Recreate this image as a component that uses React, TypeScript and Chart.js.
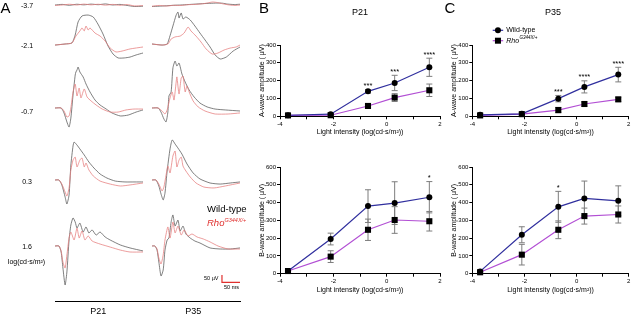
import React, { useEffect, useRef } from "react";
import { Chart, registerables } from "chart.js";

Chart.register(...registerables);

type Pt = [number, number];

const FONT = "'Liberation Sans', Arial, Helvetica, sans-serif";

// Flash strengths, log(cd·s/m²)
const INTENSITIES = [-3.7, -2.1, -0.7, 0.3, 1.6];
const INTENSITY_LABELS = ["-3.7", "-2.1", "-0.7", "0.3", "1.6"];

// Series names
const WT_NAME = "Wild-type";
const MUT_NAME = "Rho";
const MUT_ALLELE = "G344X/+";

// A-wave amplitudes (µV), mean ± error
const P21_A_WT = [6, 12, 140, 187, 275];
const P21_A_WT_ERR = [4, 6, 10, 43, 51];
const P21_A_MUT = [5, 6, 58, 105, 146];
const P21_A_MUT_ERR = [4, 5, 12, 22, 35];
const P21_A_SIG = ["", "", "***", "***", "****"];

const P35_A_WT = [8, 14, 99, 165, 234];
const P35_A_WT_ERR = [8, 6, 18, 34, 41];
const P35_A_MUT = [5, 12, 35, 69, 95];
const P35_A_MUT_ERR = [10, 5, 15, 12, 12];
const P35_A_SIG = ["", "", "***", "****", "****"];

// B-wave amplitudes (µV), mean ± error
const P21_B_WT = [15, 195, 380, 397, 430];
const P21_B_WT_ERR = [8, 33, 92, 120, 88];
const P21_B_MUT = [15, 96, 247, 302, 295];
const P21_B_MUT_ERR = [8, 33, 60, 75, 55];
const P21_B_SIG = ["", "", "", "", "*"];

const P35_B_WT = [13, 219, 376, 423, 410];
const P35_B_WT_ERR = [8, 45, 87, 98, 84];
const P35_B_MUT = [8, 107, 247, 324, 333];
const P35_B_MUT_ERR = [8, 58, 50, 45, 48];
const P35_B_SIG = ["", "", "*", "", ""];

// Representative ERG traces: [time (ms), amplitude (µV)]
const P21_WT_M37: Pt[] = [[0, 0], [20, 4], [40, -2], [60, 5], [80, 1], [100, 6], [120, 2], [140, 7], [160, 0], [180, 4], [200, -3], [220, -10], [244, -8]];
const P21_MUT_M37: Pt[] = [[0, -3], [20, 0], [40, 5], [60, 0], [80, 6], [100, 1], [120, 5], [140, -1], [160, 4], [180, -2], [200, 3], [220, -6], [244, -4]];
const P35_WT_M37: Pt[] = [[0, -10], [20, -8], [40, -5], [60, -2], [80, 0], [100, 3], [120, 6], [140, 9], [160, 11], [180, 13], [195, 12], [210, 6], [228, 3], [244, 5]];
const P35_MUT_M37: Pt[] = [[0, -8], [20, -3], [40, -7], [60, -2], [80, -3], [100, 2], [120, 4], [140, 8], [155, 14], [168, 20], [182, 16], [196, 8], [215, 0], [230, -3], [244, 0]];

const P21_WT_M21: Pt[] = [[0, -7], [28, 0], [47, 7], [56, 60], [64, 147], [75, 187], [92, 193], [106, 180], [119, 133], [133, 67], [147, -13], [161, -67], [175, -93], [192, -93], [208, -87], [225, -73], [244, -60]];
const P21_MUT_M21: Pt[] = [[0, -7], [28, 0], [47, 7], [58, 53], [69, 87], [75, 107], [81, 87], [86, 120], [92, 93], [97, 107], [111, 73], [125, 53], [139, 20], [153, -27], [169, -53], [186, -47], [208, -33], [244, -20]];
const P35_WT_M21: Pt[] = [[0, 0], [28, -7], [42, 0], [50, 55], [58, 120], [67, 193], [72, 213], [75, 173], [81, 207], [86, 167], [94, 180], [106, 160], [119, 120], [133, 73], [147, 27], [161, -20], [175, -73], [189, -100], [206, -87], [225, -47], [244, -20]];
const P35_MUT_M21: Pt[] = [[0, 0], [28, -7], [44, 0], [53, 33], [64, 47], [78, 53], [89, 73], [100, 113], [108, 87], [122, 53], [136, 13], [150, -33], [167, -67], [183, -60], [200, -40], [217, -27], [233, -20], [244, -7]];

const P21_WT_M07: Pt[] = [[0, 0], [17, 0], [25, -33], [33, -93], [39, -127], [44, -67], [50, 87], [56, 220], [58, 240], [61, 253], [64, 273], [69, 240], [78, 207], [86, 160], [97, 107], [111, 53], [125, 20], [142, -7], [158, -33], [181, -53], [203, -47], [225, -27], [244, -13]];
const P21_MUT_M07: Pt[] = [[0, 0], [17, 0], [25, -20], [33, -60], [39, -53], [44, 0], [50, 107], [56, 160], [61, 80], [67, 133], [72, 67], [81, 127], [89, 73], [100, 47], [114, 20], [131, -7], [153, -27], [175, -27], [197, -13], [219, -7], [244, -7]];
const P35_WT_M07: Pt[] = [[0, 0], [17, 0], [25, -27], [33, -73], [39, -93], [44, -27], [47, 80], [53, 107], [58, 267], [64, 313], [69, 280], [75, 300], [83, 227], [92, 173], [103, 120], [117, 73], [133, 33], [153, 7], [175, -7], [203, -13], [244, -20]];
const P35_MUT_M07: Pt[] = [[0, 0], [17, 0], [28, -20], [36, -40], [42, -13], [50, 67], [56, 107], [61, 53], [67, 173], [69, 207], [75, 93], [81, 200], [86, 213], [92, 107], [97, 147], [103, 107], [114, 47], [128, 7], [147, -20], [175, -40], [211, -40], [244, -33]];

const P21_WT_P03: Pt[] = [[0, 0], [11, 0], [19, -33], [28, -113], [33, -160], [39, -100], [44, 100], [50, 227], [53, 253], [61, 233], [69, 207], [81, 167], [94, 120], [108, 80], [125, 40], [144, 13], [167, -7], [194, -13], [222, -13], [244, -13]];
const P21_MUT_P03: Pt[] = [[0, 0], [11, 0], [19, -27], [28, -80], [33, -107], [39, -53], [44, 67], [50, 133], [56, 153], [61, 87], [69, 133], [75, 147], [81, 87], [86, 113], [94, 67], [106, 27], [125, -7], [153, -27], [181, -40], [208, -33], [244, -20]];
const P35_WT_P03: Pt[] = [[0, 0], [11, 0], [19, -40], [25, -93], [31, -133], [36, -87], [42, 60], [50, 207], [56, 267], [64, 240], [72, 213], [83, 173], [97, 107], [114, 47], [133, 7], [161, -20], [189, -27], [217, -20], [244, -13]];
const P35_MUT_P03: Pt[] = [[0, 0], [11, 0], [19, -27], [28, -73], [33, -47], [39, 33], [44, 93], [50, 47], [58, 160], [64, 193], [69, 87], [75, 133], [81, 153], [86, 93], [94, 60], [106, 20], [122, -20], [144, -47], [172, -53], [203, -40], [244, -20]];

const P21_WT_P16: Pt[] = [[0, 0], [11, 0], [17, -40], [22, -147], [28, -260], [33, -173], [39, 40], [44, 140], [50, 187], [56, 160], [61, 120], [69, 153], [78, 93], [86, 127], [94, 87], [103, 107], [114, 73], [125, 93], [139, 60], [153, 40], [181, 7], [208, -13], [244, -33]];
const P21_MUT_P16: Pt[] = [[0, 0], [11, 0], [17, -33], [22, -107], [28, -147], [33, -60], [39, 53], [44, 93], [53, 40], [61, 120], [67, 53], [75, 100], [83, 40], [92, 67], [103, 33], [125, 13], [153, -7], [181, -27], [208, -40], [244, -40]];
const P35_WT_P16: Pt[] = [[0, 0], [8, 0], [14, -27], [19, -107], [25, -200], [31, -160], [36, -27], [42, 40], [47, 53], [53, 160], [58, 207], [64, 133], [72, 173], [78, 100], [86, 133], [94, 80], [106, 53], [119, 33], [133, 20], [161, -13], [189, -20], [217, -20], [244, -13]];
const P35_MUT_P16: Pt[] = [[0, 0], [8, 0], [14, -20], [19, -80], [25, -120], [31, -60], [36, 40], [44, 127], [50, 53], [58, 160], [64, 87], [72, 133], [81, 73], [89, 107], [100, 67], [111, 80], [125, 60], [142, 47], [161, 27], [183, 0], [211, -20], [244, -20]];

// Calibration: 50 µV vertical, 50 ms horizontal
const SCALE_BAR: Pt[] = [[194, -193], [194, -243], [244, -243]];

const TRACE_ROWS: { p21: [Pt[], Pt[]]; p35: [Pt[], Pt[]] }[] = [
  { p21: [P21_WT_M37, P21_MUT_M37], p35: [P35_WT_M37, P35_MUT_M37] },
  { p21: [P21_WT_M21, P21_MUT_M21], p35: [P35_WT_M21, P35_MUT_M21] },
  { p21: [P21_WT_M07, P21_MUT_M07], p35: [P35_WT_M07, P35_MUT_M07] },
  { p21: [P21_WT_P03, P21_MUT_P03], p35: [P35_WT_P03, P35_MUT_P03] },
  { p21: [P21_WT_P16, P21_MUT_P16], p35: [P35_WT_P16, P35_MUT_P16] },
];

// Colours
const WT_TRACE = "#555555";
const MUT_TRACE = "#e67c7c";
const RED_TEXT = "#e0302e";
const WT_LINE = "#302f9e";
const MUT_LINE = "#b24fd4";
const ERR_COLOR = "#7d7d7d";

// Trace geometry
const PX_PER_MS = 0.36;
const PX_PER_UV = 0.15;
const TRACE_SPAN_MS = 244;
const TRACE_HALF_RANGE_UV = 360;
const COLUMN_LEFT = [55, 152];
const ROW_BASELINE = [5, 44, 108, 180, 246];

const toXY = (pts: Pt[]) => pts.map(([x, y]) => ({ x, y }));

function TraceCell({ left, base, wt, mut, extra }: { left: number; base: number; wt: Pt[]; mut: Pt[]; extra?: Pt[] }) {
  const ref = useRef<HTMLCanvasElement>(null);
  const width = Math.round(TRACE_SPAN_MS * PX_PER_MS);
  const height = Math.round(2 * TRACE_HALF_RANGE_UV * PX_PER_UV);
  useEffect(() => {
    const datasets: any[] = [
      { data: toXY(mut), borderColor: MUT_TRACE, borderWidth: 0.75, pointRadius: 0, tension: 0.2, clip: false },
      { data: toXY(wt), borderColor: WT_TRACE, borderWidth: 0.75, pointRadius: 0, tension: 0.2, clip: false },
    ];
    if (extra) {
      datasets.push({ data: toXY(extra), borderColor: RED_TEXT, borderWidth: 1.2, pointRadius: 0, tension: 0, clip: false });
    }
    const chart = new Chart(ref.current!, {
      type: "line",
      data: { datasets },
      options: {
        animation: false,
        responsive: false,
        events: [],
        layout: { padding: 0 },
        plugins: { legend: { display: false }, tooltip: { enabled: false } },
        scales: {
          x: { type: "linear", display: false, min: 0, max: TRACE_SPAN_MS },
          y: { type: "linear", display: false, min: -TRACE_HALF_RANGE_UV, max: TRACE_HALF_RANGE_UV },
        },
      },
    });
    return () => chart.destroy();
  }, []);
  return (
    <canvas
      ref={ref}
      width={width}
      height={height}
      style={{ position: "absolute", left, top: Math.round(base - height / 2), width, height }}
    />
  );
}

// Error bars drawn from each dataset's `errors` array
const errorBars = {
  id: "errorBars",
  beforeDatasetsDraw(chart: any) {
    const { ctx } = chart;
    const xs = chart.scales.x;
    const ys = chart.scales.y;
    chart.data.datasets.forEach((ds: any) => {
      if (!ds.errors) return;
      ctx.save();
      ctx.strokeStyle = ERR_COLOR;
      ctx.lineWidth = 1;
      ds.data.forEach((p: any, i: number) => {
        const e = ds.errors[i];
        const x = xs.getPixelForValue(p.x);
        const y1 = ys.getPixelForValue(p.y + e);
        const y2 = ys.getPixelForValue(p.y - e);
        const cap = 3;
        ctx.beginPath();
        ctx.moveTo(x, y1);
        ctx.lineTo(x, y2);
        ctx.moveTo(x - cap, y1);
        ctx.lineTo(x + cap, y1);
        ctx.moveTo(x - cap, y2);
        ctx.lineTo(x + cap, y2);
        ctx.stroke();
      });
      ctx.restore();
    });
  },
};

// Significance asterisks above the highest error bar at each intensity
const makeSigMarks = (labels: string[]) => ({
  id: "sigMarks",
  afterDatasetsDraw(chart: any) {
    const { ctx } = chart;
    const xs = chart.scales.x;
    const ys = chart.scales.y;
    ctx.save();
    ctx.font = `7.5px ${FONT}`;
    ctx.textAlign = "center";
    ctx.textBaseline = "alphabetic";
    ctx.fillStyle = "#000";
    labels.forEach((s, i) => {
      if (!s) return;
      let top = -Infinity;
      chart.data.datasets.forEach((ds: any) => {
        top = Math.max(top, ds.data[i].y + (ds.errors ? ds.errors[i] : 0));
      });
      ctx.fillText(s, xs.getPixelForValue(INTENSITIES[i]), ys.getPixelForValue(top) - 1.5);
    });
    ctx.restore();
  },
});

// Series key inside the plot
const makeSeriesKey = (x: number, y: number, gap: number) => ({
  id: "seriesKey",
  afterDraw(chart: any) {
    const { ctx } = chart;
    chart.data.datasets.forEach((ds: any, i: number) => {
      const yy = y + i * gap;
      ctx.save();
      ctx.strokeStyle = ds.borderColor;
      ctx.lineWidth = 1.2;
      ctx.beginPath();
      ctx.moveTo(x, yy);
      ctx.lineTo(x + 10.5, yy);
      ctx.stroke();
      ctx.fillStyle = "#000";
      const cx = x + 5.25;
      if (ds.pointStyle === "rect") {
        ctx.fillRect(cx - 3, yy - 3, 6, 6);
      } else {
        ctx.beginPath();
        ctx.arc(cx, yy, 3, 0, Math.PI * 2);
        ctx.fill();
      }
      let tx = x + 13.5;
      ctx.textBaseline = "middle";
      if (ds.labelSup) {
        ctx.font = `italic 7px ${FONT}`;
        ctx.fillText(ds.label, tx, yy);
        tx += ctx.measureText(ds.label).width + 0.5;
        ctx.font = `italic 4.5px ${FONT}`;
        ctx.fillText(ds.labelSup, tx, yy - 2.5);
      } else {
        ctx.font = `7px ${FONT}`;
        ctx.fillText(ds.label, tx, yy);
      }
      ctx.restore();
    });
  },
});

const Y_AXIS_W = 22.5;

type Box = { left: number; top: number; width: number; height: number };
type Area = { left: number; right: number; top: number; bottom: number };

function DosePlot(props: {
  box: Box;
  area: Area;
  xAxisH: number;
  yMax: number;
  yTitle: string;
  wt: number[];
  wtErr: number[];
  mut: number[];
  mutErr: number[];
  sig: string[];
  showKey?: boolean;
}) {
  const { box, area, xAxisH, yMax, yTitle, wt, wtErr, mut, mutErr, sig, showKey } = props;
  const ref = useRef<HTMLCanvasElement>(null);
  useEffect(() => {
    const padding = {
      left: area.left - box.left - Y_AXIS_W,
      right: box.left + box.width - area.right,
      top: area.top - box.top,
      bottom: box.top + box.height - area.bottom - xAxisH,
    };
    const axisCommon = {
      grid: { display: true, drawOnChartArea: false, drawTicks: true, tickLength: 3, color: "#000", lineWidth: 1 },
      border: { display: true, color: "#000", width: 1 },
    };
    const plugins: any[] = [errorBars, makeSigMarks(sig)];
    if (showKey) plugins.push(makeSeriesKey(72.7, 30.3, 10.4));
    const chart = new Chart(ref.current!, {
      type: "line",
      data: {
        datasets: [
          {
            label: WT_NAME,
            data: INTENSITIES.map((x, i) => ({ x, y: wt[i] })),
            borderColor: WT_LINE,
            borderWidth: 1.2,
            pointStyle: "circle",
            pointRadius: 3,
            pointBackgroundColor: "#000",
            pointBorderColor: "#000",
            pointBorderWidth: 0,
            tension: 0,
            clip: false,
            errors: wtErr,
          } as any,
          {
            label: MUT_NAME,
            labelSup: MUT_ALLELE,
            data: INTENSITIES.map((x, i) => ({ x, y: mut[i] })),
            borderColor: MUT_LINE,
            borderWidth: 1.2,
            pointStyle: "rect",
            pointRadius: 4.3,
            pointBackgroundColor: "#000",
            pointBorderColor: "#000",
            pointBorderWidth: 0,
            tension: 0,
            clip: false,
            errors: mutErr,
          } as any,
        ],
      },
      options: {
        animation: false,
        responsive: false,
        events: [],
        layout: { padding },
        plugins: { legend: { display: false }, tooltip: { enabled: false }, title: { display: false } },
        scales: {
          x: {
            type: "linear",
            min: -4,
            max: 2,
            afterFit: (s: any) => {
              s.height = xAxisH;
            },
            ticks: {
              stepSize: 1,
              autoSkip: false,
              maxRotation: 0,
              padding: 1,
              color: "#000",
              font: { family: FONT, size: 6 },
              callback: (v: any) => (Math.abs(Math.round(v)) % 2 === 0 ? String(v) : ""),
            },
            title: { display: true, text: "Light intensity (log(cd·s/m²))", color: "#000", font: { family: FONT, size: 7 }, padding: 0 },
            ...axisCommon,
          },
          y: {
            type: "linear",
            min: 0,
            max: yMax,
            afterFit: (s: any) => {
              s.width = Y_AXIS_W;
            },
            ticks: { stepSize: 100, padding: 1, color: "#000", font: { family: FONT, size: 6 } },
            title: { display: true, text: yTitle, color: "#000", font: { family: FONT, size: 7 }, padding: 0 },
            ...axisCommon,
          },
        },
      } as any,
      plugins,
    });
    return () => chart.destroy();
  }, []);
  return (
    <canvas
      ref={ref}
      width={box.width}
      height={box.height}
      style={{ position: "absolute", left: box.left, top: box.top, width: box.width, height: box.height }}
    />
  );
}

function Txt(props: {
  x: number;
  y: number;
  size: number;
  align?: "left" | "center" | "right";
  color?: string;
  italic?: boolean;
  children: React.ReactNode;
}) {
  const { x, y, size, align = "center", color = "#000", italic = false, children } = props;
  const tx = align === "center" ? "-50%" : align === "right" ? "-100%" : "0";
  return (
    <div
      style={{
        position: "absolute",
        left: x,
        top: y,
        transform: `translate(${tx}, -50%)`,
        fontSize: size,
        lineHeight: 1,
        whiteSpace: "nowrap",
        color,
        fontStyle: italic ? "italic" : "normal",
      }}
    >
      {children}
    </div>
  );
}

export default function App() {
  return (
    <div
      style={{
        position: "absolute",
        left: 0,
        top: 0,
        width: 633,
        height: 314,
        background: "#fff",
        fontFamily: FONT,
        color: "#000",
        overflow: "hidden",
      }}
    >
      {/* Panel A: ERG traces */}
      {TRACE_ROWS.map((row, r) => (
        <React.Fragment key={r}>
          <TraceCell left={COLUMN_LEFT[0]} base={ROW_BASELINE[r]} wt={row.p21[0]} mut={row.p21[1]} />
          <TraceCell
            left={COLUMN_LEFT[1]}
            base={ROW_BASELINE[r]}
            wt={row.p35[0]}
            mut={row.p35[1]}
            extra={r === TRACE_ROWS.length - 1 ? SCALE_BAR : undefined}
          />
        </React.Fragment>
      ))}
      <Txt x={5.5} y={7} size={15}>A</Txt>
      {INTENSITY_LABELS.map((l, i) => (
        <Txt key={l} x={27} y={[5, 45, 111, 180.7, 246][i]} size={7}>
          {l}
        </Txt>
      ))}
      <Txt x={26.5} y={261} size={7}>log(cd·s/m²)</Txt>
      <Txt x={207} y={209.3} size={9.5} align="left">
        {WT_NAME}
      </Txt>
      <Txt x={207} y={222.5} size={9.5} align="left" color={RED_TEXT} italic>
        {MUT_NAME}
        <span style={{ fontSize: 5.5, position: "relative", top: -3.5 }}>{MUT_ALLELE}</span>
      </Txt>
      <Txt x={218.5} y={279.3} size={5.5} align="right">50 µV</Txt>
      <Txt x={231.5} y={287.7} size={5.5}>50 ms</Txt>
      <div style={{ position: "absolute", left: 55, top: 301, width: 186, height: 1.3, background: "#000" }} />
      <Txt x={98.3} y={311} size={9}>P21</Txt>
      <Txt x={193.3} y={311} size={9}>P35</Txt>

      {/* Panel B: P21 */}
      <Txt x={264} y={7} size={15}>B</Txt>
      <Txt x={360} y={12.3} size={9}>P21</Txt>
      <DosePlot
        box={{ left: 230, top: 0, width: 215, height: 145 }}
        area={{ left: 280, right: 440, top: 45, bottom: 116.3 }}
        xAxisH={20}
        yMax={400}
        yTitle="A-wave amplitude ( μV)"
        wt={P21_A_WT}
        wtErr={P21_A_WT_ERR}
        mut={P21_A_MUT}
        mutErr={P21_A_MUT_ERR}
        sig={P21_A_SIG}
      />
      <DosePlot
        box={{ left: 230, top: 150, width: 215, height: 160 }}
        area={{ left: 280, right: 440, top: 167, bottom: 273.7 }}
        xAxisH={21}
        yMax={600}
        yTitle="B-wave amplitude ( μV)"
        wt={P21_B_WT}
        wtErr={P21_B_WT_ERR}
        mut={P21_B_MUT}
        mutErr={P21_B_MUT_ERR}
        sig={P21_B_SIG}
      />

      {/* Panel C: P35 */}
      <Txt x={450} y={7} size={15}>C</Txt>
      <Txt x={553} y={12.3} size={9}>P35</Txt>
      <DosePlot
        box={{ left: 420, top: 0, width: 213, height: 145 }}
        area={{ left: 472.3, right: 631, top: 45, bottom: 116.3 }}
        xAxisH={20}
        yMax={400}
        yTitle="A-wave amplitude ( μV)"
        wt={P35_A_WT}
        wtErr={P35_A_WT_ERR}
        mut={P35_A_MUT}
        mutErr={P35_A_MUT_ERR}
        sig={P35_A_SIG}
        showKey
      />
      <DosePlot
        box={{ left: 420, top: 150, width: 213, height: 160 }}
        area={{ left: 472.3, right: 631, top: 167, bottom: 273.7 }}
        xAxisH={21}
        yMax={600}
        yTitle="B-wave amplitude ( μV)"
        wt={P35_B_WT}
        wtErr={P35_B_WT_ERR}
        mut={P35_B_MUT}
        mutErr={P35_B_MUT_ERR}
        sig={P35_B_SIG}
      />
    </div>
  );
}
